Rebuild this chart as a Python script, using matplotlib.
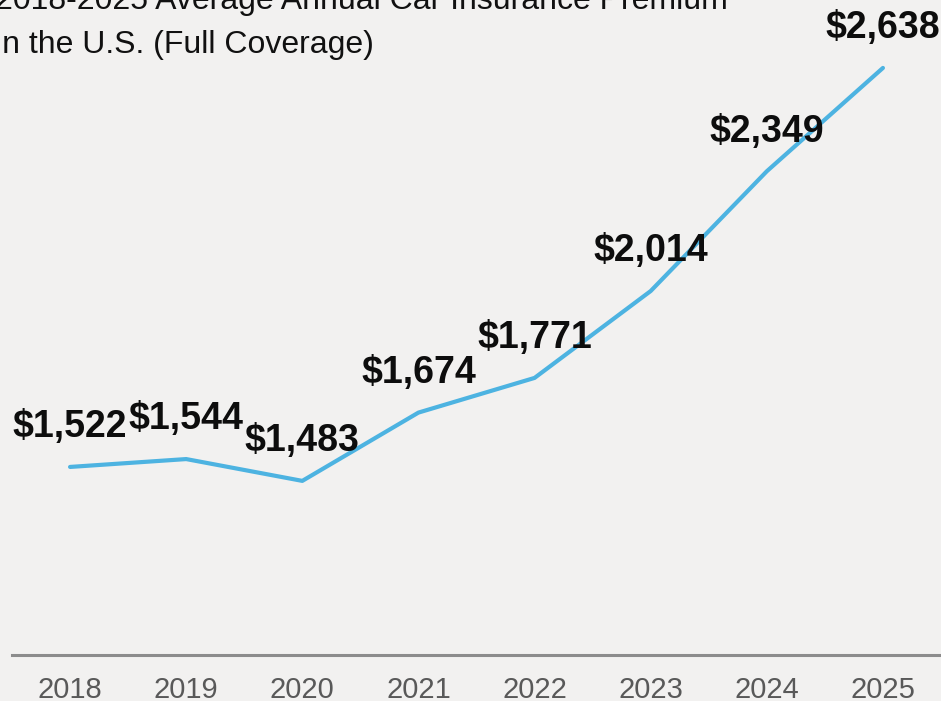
import matplotlib
matplotlib.use('agg')
import matplotlib.pyplot as plt

years = [2018, 2019, 2020, 2021, 2022, 2023, 2024, 2025]
premiums = [1522, 1544, 1483, 1674, 1771, 2014, 2349, 2638]
title_lines = ["2018-2025 Average Annual Car Insurance Premium",
               "in the U.S. (Full Coverage)"]

bg = '#f2f1f0'
W, H = 941, 701
fam = ['Liberation Sans', 'DejaVu Sans']

fig = plt.figure(figsize=(W / 100, H / 100), dpi=100, facecolor=bg)
ax = fig.add_axes([12 / W, 46 / H, 1 - 12 / W, 1 - 46 / H])
ax.set_facecolor(bg)

ax.plot(years, premiums, color='#4db3e1', linewidth=3, solid_capstyle='round')

# value labels above each point
for x, y in zip(years, premiums):
    ax.annotate('${:,}'.format(y), (x, y), xytext=(0, 28.5), textcoords='offset points',
                ha='center', va='center', fontsize=27, fontweight='bold',
                family=fam, color='#0d0d0d')

ax.set_xlim(2017.5, 2025.5)
ax.set_ylim(996, 2828)
ax.set_yticks([])
ax.set_xticks(years)
ax.set_xticklabels([str(y) for y in years], fontsize=21, color='#595959', family=fam)
ax.tick_params(axis='x', length=0, pad=15)
for side in ['top', 'right', 'left']:
    ax.spines[side].set_visible(False)
ax.spines['bottom'].set_color('#8c8c8c')
ax.spines['bottom'].set_linewidth(2.2)

# title, partly cut off at the top left like the source image
for i, line in enumerate(title_lines):
    fig.text(-5 / W, 1 - (1 + 44 * i) / H, line, ha='left', va='center', fontsize=23,
             family=fam, color='#111111')

fig.savefig('out.png', dpi=100, facecolor=bg)
